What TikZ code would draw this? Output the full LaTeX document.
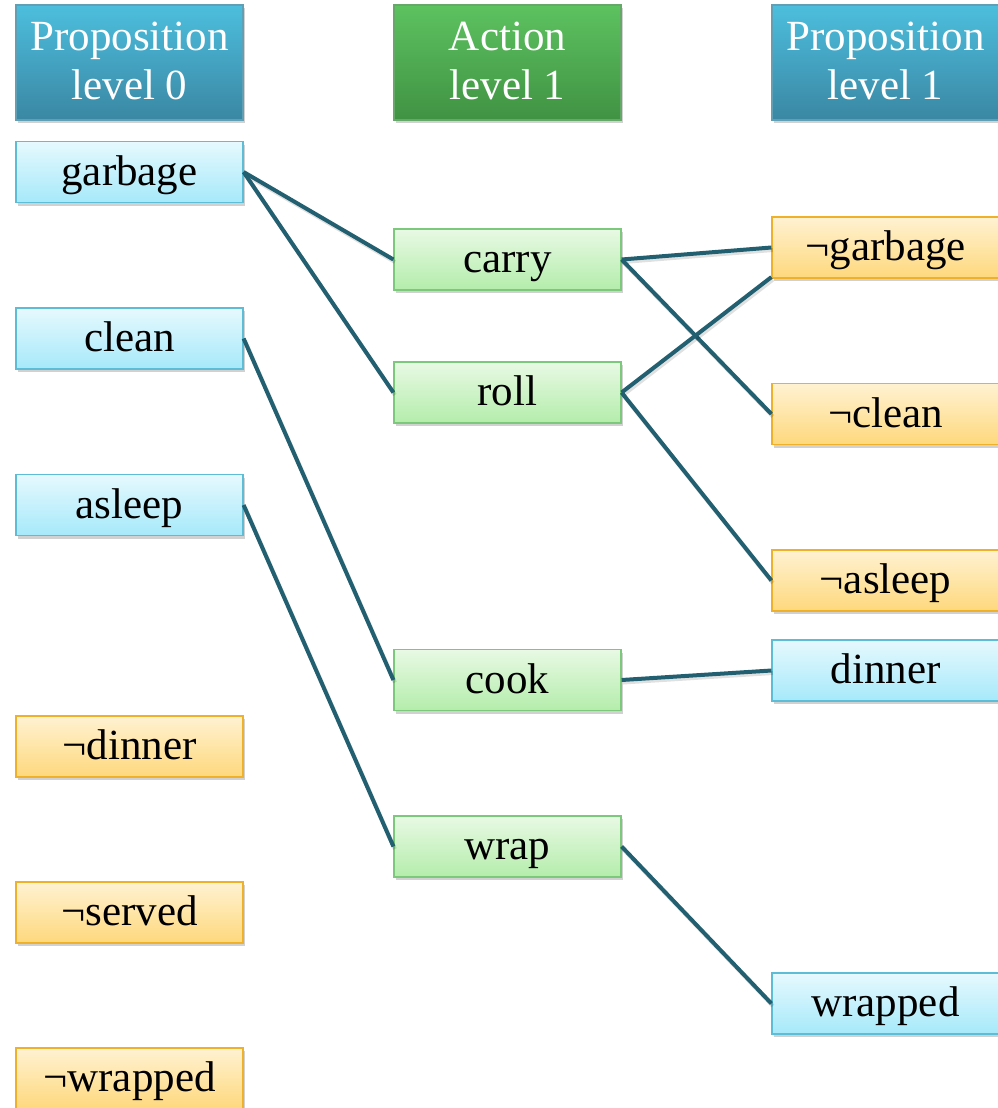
\documentclass[tikz,border=0pt]{standalone}
\usepackage{fontspec}
\setmainfont{Liberation Serif}
\usetikzlibrary{shadows}
\definecolor{hdrbluetop}{HTML}{4DBEDE}
\definecolor{hdrbluebot}{HTML}{3A87A3}
\definecolor{hdrgreentop}{HTML}{5DC260}
\definecolor{hdrgreenbot}{HTML}{409243}
\definecolor{propblueTop}{HTML}{E6F9FE}
\definecolor{propblueBot}{HTML}{A6E9FA}
\definecolor{propblueLine}{HTML}{5EBDD6}
\definecolor{actTop}{HTML}{E8F9E4}
\definecolor{actBot}{HTML}{B4EDAB}
\definecolor{actLine}{HTML}{7DC97C}
\definecolor{negTop}{HTML}{FFF2D2}
\definecolor{negBot}{HTML}{FED87C}
\definecolor{negLine}{HTML}{F0B12A}
\definecolor{linkcol}{HTML}{225F70}
\tikzset{
  boxbase/.style={rectangle, minimum width=227pt, inner sep=0pt,
    font=\fontsize{43}{49}\selectfont, line width=1.2pt,
    drop shadow={shadow xshift=2pt, shadow yshift=-3pt, fill=black, opacity=0.18}},
  itembox/.style={boxbase, minimum height=61pt, text height=32pt, text depth=6pt},
  hdrbox/.style={boxbase, minimum height=115pt, align=center, text=white, text depth=4pt},
  hdrblue/.style={hdrbox, top color=hdrbluetop, bottom color=hdrbluebot, draw=hdrbluebot!80},
  hdrgreen/.style={hdrbox, top color=hdrgreentop, bottom color=hdrgreenbot, draw=hdrgreenbot!80},
  prop/.style={itembox, top color=propblueTop, bottom color=propblueBot, draw=propblueLine},
  act/.style={itembox, top color=actTop, bottom color=actBot, draw=actLine},
  neg/.style={itembox, top color=negTop, bottom color=negBot, draw=negLine},
  link/.style={draw=linkcol, line width=4pt,
    preaction={draw=black, draw opacity=0.12, line width=4pt,
      transform canvas={xshift=1.5pt, yshift=-2.5pt}}}
}
\begin{document}
\begin{tikzpicture}[x=1pt, y=-1pt]
\useasboundingbox (0,0) rectangle (997,1108);
% headers
\node[hdrblue]  (h0) at (129.5,62.5) {Proposition\\level 0};
\node[hdrgreen] (h1) at (507.5,62.5) {Action\\level 1};
\node[hdrblue]  (h2) at (885.5,62.5) {Proposition\\level 1};
% level 0
\node[prop] (garbage) at (129.5,172) {garbage};
\node[prop] (clean)   at (129.5,338.5) {clean};
\node[prop] (asleep)  at (129.5,505) {asleep};
\node[neg]  (ndinner) at (129.5,746.5) {¬dinner};
\node[neg]  (nserved) at (129.5,912.5) {¬served};
\node[neg]  (nwrapped) at (129.5,1078.5) {¬wrapped};
% actions
\node[act] (carry) at (507.5,259.5) {carry};
\node[act] (roll)  at (507.5,392.5) {roll};
\node[act] (cook)  at (507.5,680) {cook};
\node[act] (wrap)  at (507.5,846.5) {wrap};
% level 1
\node[neg]  (ngarbage) at (885.5,247.5) {¬garbage};
\node[neg]  (nclean)   at (885.5,414) {¬clean};
\node[neg]  (nasleep)  at (885.5,580.5) {¬asleep};
\node[prop] (dinner)   at (885.5,670.5) {dinner};
\node[prop] (wrapped)  at (885.5,1003.5) {wrapped};
% links
\draw[link] (garbage.east) -- (carry.west);
\draw[link] (garbage.east) -- (roll.west);
\draw[link] (clean.east) -- (cook.west);
\draw[link] (asleep.east) -- (wrap.west);
\draw[link] (carry.east) -- (ngarbage.west);
\draw[link] (carry.east) -- (nclean.west);
\draw[link] (roll.east) -- ([yshift=1.5pt]ngarbage.south west);
\draw[link] (roll.east) -- (nasleep.west);
\draw[link] (cook.east) -- (dinner.west);
\draw[link] (wrap.east) -- (wrapped.west);
\end{tikzpicture}
\end{document}
